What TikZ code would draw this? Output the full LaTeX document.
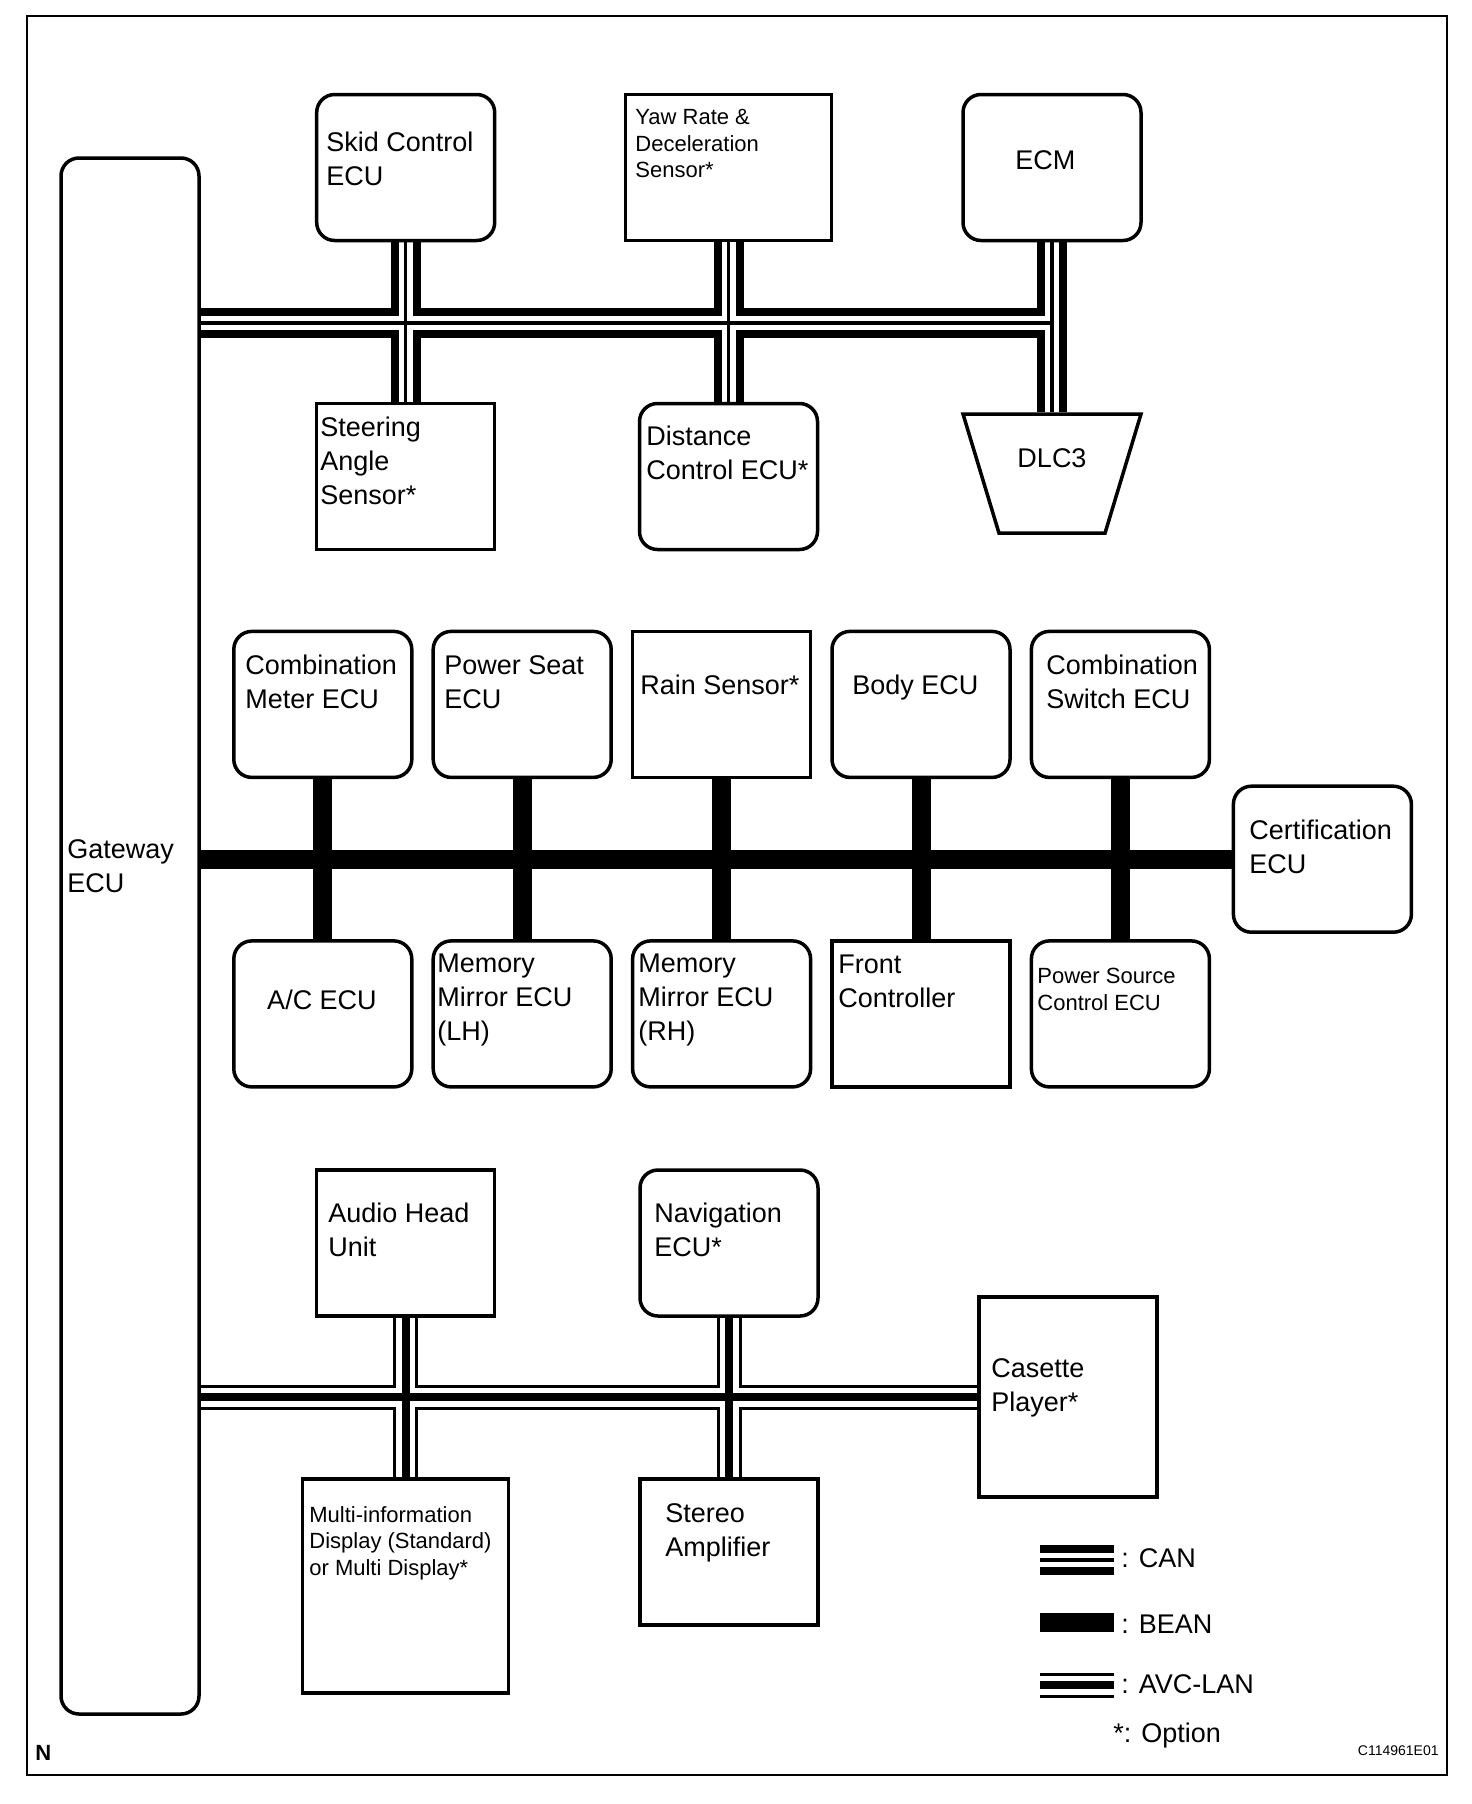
\documentclass[tikz,border=0pt]{standalone}
\usepackage{fontspec}
\setmainfont{Liberation Sans}
\usetikzlibrary{positioning, shapes.geometric, backgrounds}

\begin{document}
\begin{tikzpicture}[x=0.5pt, y=-0.5pt,
      unit/.style={draw, line width=1.75pt, fill=white, minimum width=89pt, minimum height=73pt, inner sep=0pt},
      ecu/.style={unit, rounded corners=9pt},
      txt/.style={anchor=north west, inner sep=0pt, align=left, font=\fontsize{13.5}{17}\selectfont},
      small/.style={txt, font=\fontsize{11}{13.2}\selectfont},
      key/.style={anchor=base west, inner sep=0pt, font=\fontsize{13.5}{17}\selectfont},
      canout/.style={line width=15pt},
      canin/.style={line width=7pt, white},
      canmid/.style={line width=1.75pt},
      avcout/.style={line width=12.5pt},
      avcin/.style={line width=9.5pt, white},
      avcmid/.style={line width=4pt},
      bean/.style={line width=9.5pt}]

  \useasboundingbox (0,0) rectangle (1472,1804);
  \draw[line width=1pt] (27,16) rectangle (1447,1775);

  \node[ecu, minimum width=69pt, minimum height=778pt] (gw) at (130,936) {};

  \node[ecu] (skid) at (405.7,167.5) {};
  \node[unit, minimum width=103pt] (yaw) at (728.5,167.5) {};
  \node[ecu] (ecm) at (1052,167.5) {};
  \node[unit] (steer) at (405.7,476.5) {};
  \node[ecu] (dist) at (728.5,476.5) {};
  \node[unit, trapezium, shape border rotate=180, trapezium angle=57.7, trapezium stretches body=true,
        minimum height=59.5pt, inner sep=2pt, text depth=15pt,
        font=\fontsize{13.5}{17}\selectfont] (dlc) at (1052,473.5) {DLC3};

  \node[ecu] (meter) at (322.8,704.4) {};
  \node[ecu] (seat) at (522.2,704.4) {};
  \node[unit] (rain) at (721.6,704.4) {};
  \node[ecu] (body) at (921,704.4) {};
  \node[ecu] (switch) at (1120.4,704.4) {};
  \node[ecu] (ac) at (322.8,1013.9) {};
  \node[ecu] (mirlh) at (522.2,1013.9) {};
  \node[ecu] (mirrh) at (721.6,1013.9) {};
  \node[unit] (front) at (921,1013.9) {};
  \node[ecu] (psource) at (1120.4,1013.9) {};
  \node[ecu] (cert) at (1322.4,859.2) {};

  \node[unit] (audio) at (405.5,1243) {};
  \node[ecu] (navi) at (729,1243) {};
  \node[unit, minimum height=100pt] (cas) at (1068,1397.2) {};
  \node[unit, minimum width=103pt, minimum height=107pt] (mid) at (405.5,1586) {};
  \node[unit] (stereo) at (729,1552) {};

  \coordinate (canrow) at (0,323);
  \coordinate (lcanA) at (1040,1560);
  \coordinate (lcanB) at (1114,1560);
  \coordinate (lbeanA) at (1040,1622);
  \coordinate (lbeanB) at (1114,1622);
  \coordinate (lavcA) at (1040,1685);
  \coordinate (lavcB) at (1114,1685);

  \begin{pgfonlayer}{background}
    \foreach \s in {canout, canin, canmid}{
      \draw[\s] (gw.center |- canrow) -- (ecm.center |- canrow);
      \foreach \a/\b in {skid/steer, yaw/dist, ecm/dlc, lcanA/lcanB}
        \draw[\s] (\a) -- (\b);
    }
    \draw[bean] (gw.center |- cert) -- (cert);
    \foreach \a/\b in {meter/ac, seat/mirlh, rain/mirrh, body/front, switch/psource, lbeanA/lbeanB}
      \draw[bean] (\a) -- (\b);
    \foreach \s in {avcout, avcin, avcmid}{
      \draw[\s] (gw.center |- cas) -- (cas);
      \foreach \a/\b in {audio/mid, navi/stereo, lavcA/lavcB}
        \draw[\s] (\a) -- (\b);
    }
  \end{pgfonlayer}

  \node[txt] (gwt) at (67,839) {Gateway\\ECU};
  \node[txt] (skidt) at (326,132) {Skid Control\\ECU};
  \node[small] (yawt) at (635,109) {Yaw Rate \&\\Deceleration\\Sensor*};
  \node[txt] (ecmt) at (1015,150) {ECM};
  \node[txt] (steert) at (320,417) {Steering\\Angle\\Sensor*};
  \node[txt] (distt) at (646,426) {Distance\\Control ECU*};

  \node[txt] (metert) at (245,655) {Combination\\Meter ECU};
  \node[txt] (seatt) at (444,655) {Power Seat\\ECU};
  \node[txt] (raint) at (640,675) {Rain Sensor*};
  \node[txt] (bodyt) at (852,675) {Body ECU};
  \node[txt] (switcht) at (1046,655) {Combination\\Switch ECU};
  \node[txt] (certt) at (1249,820) {Certification\\ECU};
  \node[txt, anchor=center] (act) at (322,1000) {A/C ECU};
  \node[txt] (mirlht) at (437,954) {Memory\\Mirror ECU\\(LH)};
  \node[txt] (mirrht) at (638,954) {Memory\\Mirror ECU\\(RH)};
  \node[txt] (frontt) at (838,955) {Front\\Controller};
  \node[small] (psourcet) at (1037,968) {Power Source\\Control ECU};

  \node[txt] (audiot) at (328,1203) {Audio Head\\Unit};
  \node[txt] (navit) at (654,1203) {Navigation\\ECU*};
  \node[txt] (cast) at (991,1358) {Casette\\Player*};
  \node[small] (midt) at (309,1506) {Multi-information\\Display (Standard)\\or Multi Display*};
  \node[txt] (stereot) at (665,1503) {Stereo\\Amplifier};

  \node[key] (kcan) at (1121,1567) {: CAN};
  \node[key] (kbean) at (1121,1633) {: BEAN};
  \node[key] (kavc) at (1121,1693) {: AVC-LAN};
  \node[key] (kopt) at (1113,1742) {*: Option};

  \node[anchor=base west, inner sep=0pt, font=\fontsize{11}{13}\selectfont\bfseries] (mark) at (35,1760) {N};
  \node[anchor=base east, inner sep=0pt, font=\fontsize{7}{8}\selectfont] (code) at (1439,1755) {C114961E01};
\end{tikzpicture}
\end{document}
